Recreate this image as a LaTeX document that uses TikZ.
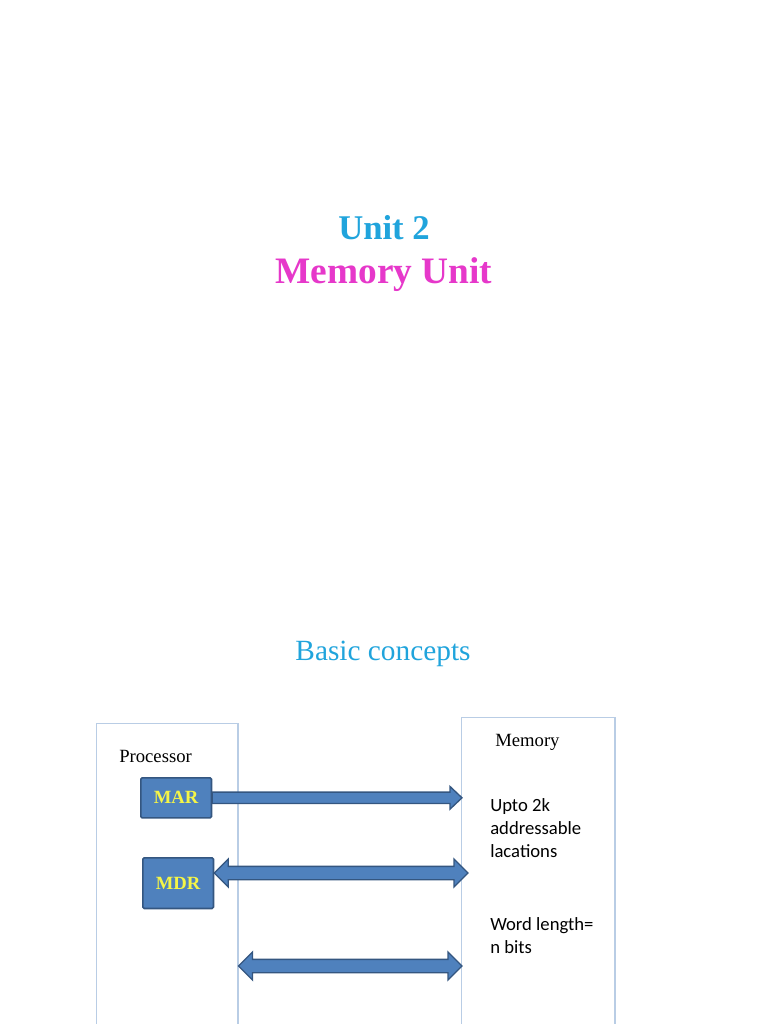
\documentclass[tikz,border=0pt]{standalone}
\usepackage{fontspec}
\setmainfont{Liberation Serif}
\newfontfamily\calibri{Carlito}
\usepackage{tikz}
\usetikzlibrary{calc,positioning}
\definecolor{titlecyan}{RGB}{32,164,220}
\definecolor{titlemagenta}{RGB}{230,56,202}
\definecolor{regfill}{RGB}{79,129,189}
\definecolor{regline}{RGB}{52,86,128}
\definecolor{unitline}{RGB}{185,205,229}
\definecolor{regtext}{RGB}{245,245,70}

\begin{document}
\begin{tikzpicture}[x=0.75pt,y=-0.75pt,
unitbox/.style={draw=unitline, line width=0.9pt, inner sep=0pt, anchor=north west},
regbox/.style={draw=regline, fill=regfill, line width=1.2pt, rounded corners=1pt, inner sep=0pt, minimum width=53pt, font=\fontsize{14}{16}\selectfont\bfseries, text=regtext},
labeltext/.style={inner sep=0pt, anchor=base west, font=\fontsize{14}{16}\selectfont},
memtext/.style={inner sep=0pt, anchor=north west, align=left, font=\calibri\fontsize{14}{17.25}\selectfont},
busarrow/.style={draw=regline, fill=regfill, line width=1pt, to path={let \p1=(\tikztostart), \p2=(\tikztotarget) in
  (\x1,\y1+4.25pt) -- (\x2-9pt,\y1+4.25pt) -- (\x2-9pt,\y1+8.5pt) -- (\x2,\y1) -- (\x2-9pt,\y1-8.5pt) -- (\x2-9pt,\y1-4.25pt) -- (\x1,\y1-4.25pt) -- cycle}},
dblbusarrow/.style={draw=regline, fill=regfill, line width=1pt, to path={let \p1=(\tikztostart), \p2=(\tikztotarget) in
  (\x1,\y1) -- (\x1+10.5pt,\y1+10.5pt) -- (\x1+10.5pt,\y1+5pt) -- (\x2-10.5pt,\y1+5pt) -- (\x2-10.5pt,\y1+10.5pt) -- (\x2,\y1) -- (\x2-10.5pt,\y1-10.5pt) -- (\x2-10.5pt,\y1-5pt) -- (\x1+10.5pt,\y1-5pt) -- (\x1+10.5pt,\y1-10.5pt) -- cycle}}
]
\useasboundingbox (0,0) rectangle (768,1024);
% Titles
\node[text=titlecyan, font=\fontsize{26}{30}\selectfont\bfseries, anchor=base] (unit) at (384,239) {Unit 2};
\node[text=titlemagenta, font=\fontsize{28}{32}\selectfont\bfseries, anchor=base] (memunit) at (384,283) {Memory Unit};
\node[text=titlecyan, font=\fontsize{22}{26}\selectfont, anchor=base] (basic) at (383,660) {Basic concepts};
% Processor and memory
\node[unitbox, minimum width=106pt, minimum height=240pt] (proc) at (96,723) {};
\node[unitbox, minimum width=115pt, minimum height=245pt] (mem) at (461,717) {};
\node[labeltext] (proclabel) at (119,762) {Processor};
\node[labeltext] (memlabel) at (495,746) {Memory};
\node[memtext] (addr) at (490,798) {Upto 2k\\addressable\\lacations};
\node[memtext] (word) at (490,917) {Word length=\\n bits};
% Registers
\node[regbox, minimum height=30pt, anchor=north west] (mar) at (140,777) {MAR};
\node[regbox, minimum height=38pt, anchor=north west, text height=10pt, text depth=-6pt] (mdr) at (142,857) {MDR};
% Buses
\coordinate (memaddr) at (462,796);
\coordinate (memdata) at (468,873);
\coordinate (memctrl) at (462,966);
\draw[busarrow] (mar.east) to (memaddr);
\draw[dblbusarrow] (mdr.east |- memdata) to (memdata);
\draw[dblbusarrow] (proc.east |- memctrl) to (memctrl);
\end{tikzpicture}
\end{document}
